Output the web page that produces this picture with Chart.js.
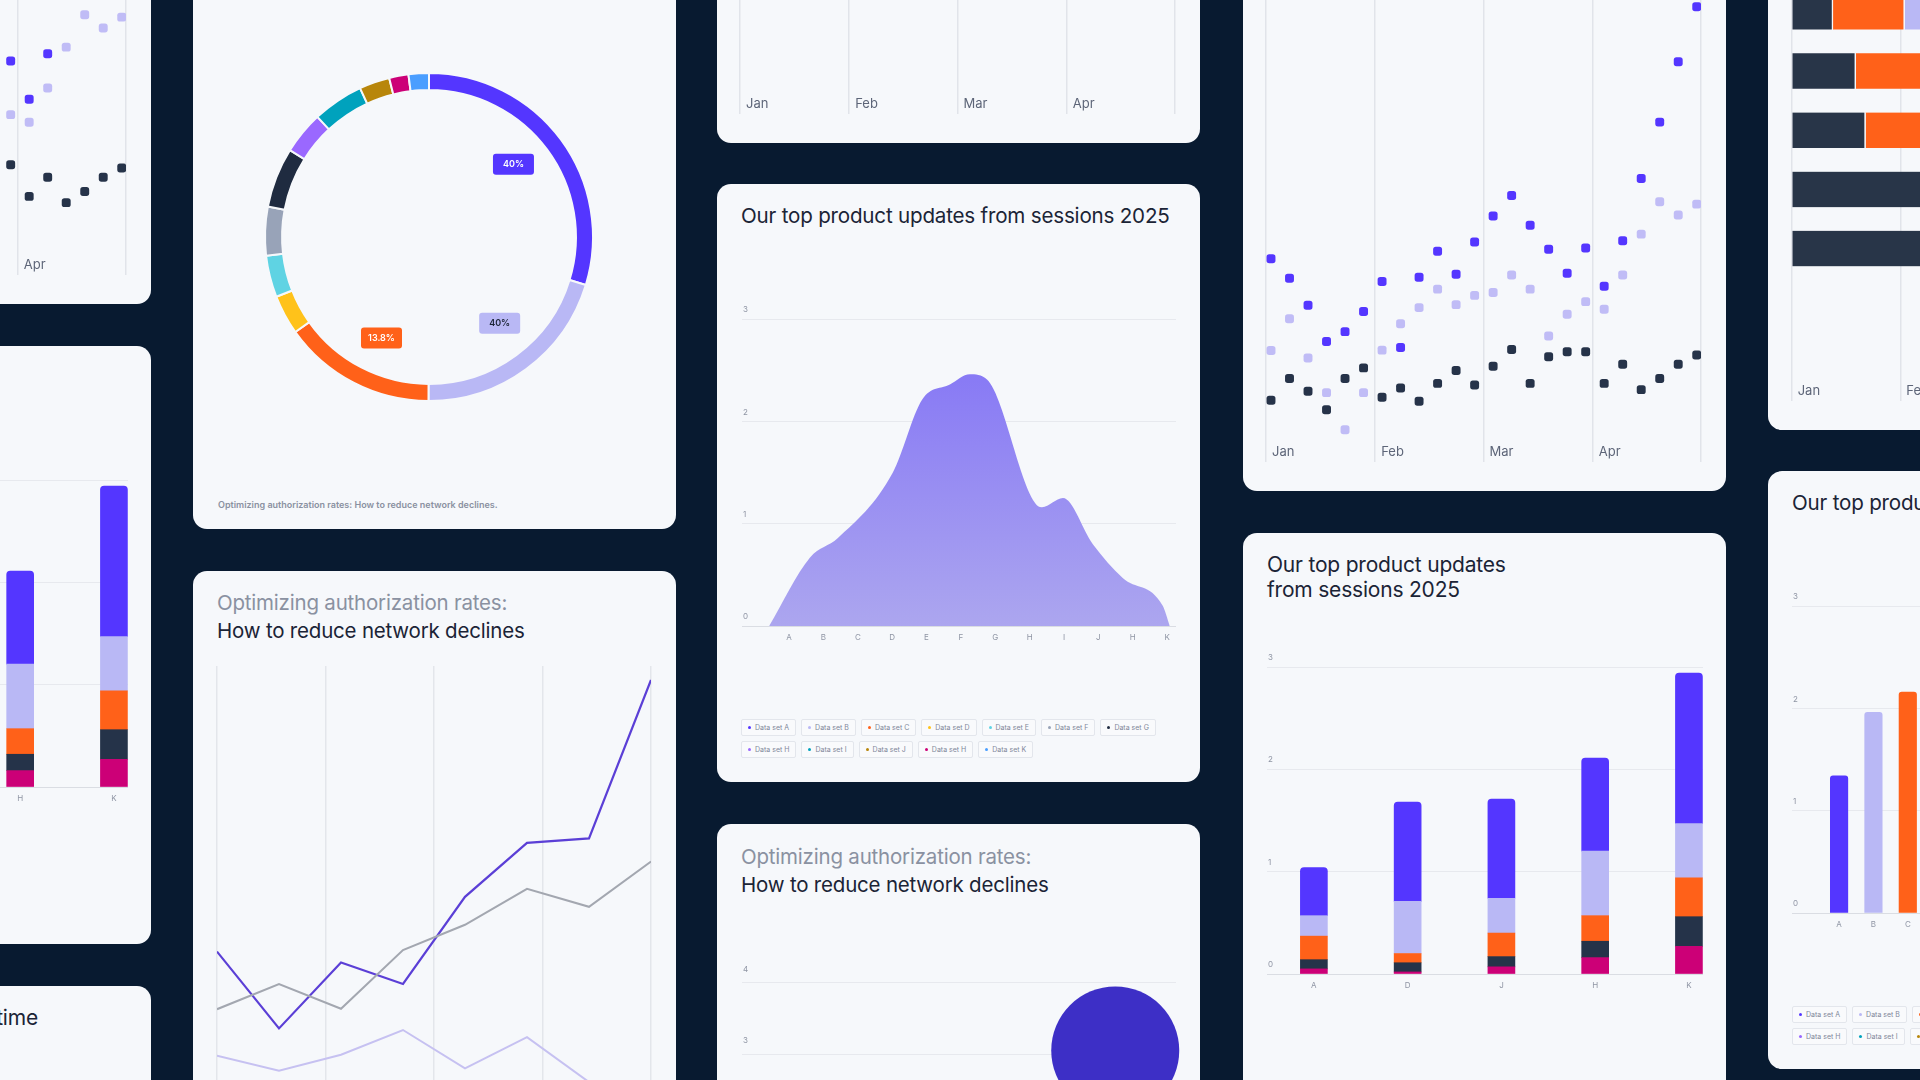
<!DOCTYPE html>
<html>
<head>
<meta charset="utf-8">
<title>Product update charts</title>
<script src="https://cdn.jsdelivr.net/npm/chart.js@4.4.1/dist/chart.umd.min.js"></script>
<style>
  html, body { margin: 0; padding: 0; }
  body { width: 1920px; height: 1080px; overflow: hidden; position: relative; background: #081a30; font-family: Inter, "Noto Sans", sans-serif; }
  .card { position: absolute; width: 483px; height: 598px; background: #f6f8fb; border-radius: 14px; overflow: hidden; }
  .plot { position: absolute; }
  .title { position: absolute; left: 24px; color: #1b2436; white-space: nowrap; letter-spacing: -0.2px; }
  .title .muted { color: #8a91a1; }
  .caption { position: absolute; left: 25px; top: 567px; font-size: 9px; line-height: 13px; font-weight: 600; color: #8a91a1; white-space: nowrap; }
  .legend { position: absolute; left: 24px; top: 535px; }
  .legend .row { display: flex; gap: 5px; margin-bottom: 5px; }
  .legend span { display: flex; align-items: center; gap: 4px; height: 15px; padding: 0 6px; border: 1px solid #e3e6ec; border-radius: 2px; background: #f9fafc; font-size: 7px; color: #80879a; white-space: nowrap; }
  .legend i { display: block; width: 3px; height: 3px; border-radius: 50%; }
</style>
</head>
<body>
<div class="card" id="c1a" style="left:-332px;top:-294px"></div>
<div class="card" id="c1b" style="left:-332px;top:346px"></div>
<div class="card" id="c1c" style="left:-332px;top:986px"></div>
<div class="card" id="c2a" style="left:193px;top:-69px"></div>
<div class="card" id="c2b" style="left:193px;top:571px"></div>
<div class="card" id="c3a" style="left:717px;top:-455px"></div>
<div class="card" id="c3b" style="left:717px;top:184px"></div>
<div class="card" id="c3c" style="left:717px;top:824px"></div>
<div class="card" id="c4a" style="left:1243px;top:-107px"></div>
<div class="card" id="c4b" style="left:1243px;top:533px"></div>
<div class="card" id="c5a" style="left:1768px;top:-168px"></div>
<div class="card" id="c5b" style="left:1768px;top:471px"></div>

<script>
// ---- data ----
const seriesNames = ['Data set A', 'Data set B', 'Data set C', 'Data set D', 'Data set E', 'Data set F', 'Data set G', 'Data set H', 'Data set I', 'Data set J', 'Data set H', 'Data set K'];
const palette = ['#5436ff', '#b9b8f5', '#ff6119', '#ffc21a', '#5fd3e3', '#98a3b8', '#1f2b40', '#9a68ff', '#00a2bd', '#b8860b', '#cc0077', '#4a9eff'];

// doughnut shares (%), clockwise from 12 o'clock
const ringShares = [29.7, 20.3, 15.1, 3.9, 4.1, 4.8, 5.9, 4.2, 5.0, 3.0, 1.9, 2.0];
const ringTags = ['40%', '40%', '13.8%'];
const ringTagInk = ['#ffffff', '#1b2436', '#ffffff'];

// monthly scatter (6 readings per month)
const monthLabels = ['Jan', 'Feb', 'Mar', 'Apr'];
const monthTicks = [-0.27, 5.63, 11.48, 17.38, 23.23];
const scatterPurple = [6.16, 5.57, 4.75, 3.65, 3.95, 4.56, 5.47, 3.47, 5.60, 6.39, 5.69, 6.67, 7.46, 8.08, 7.18, 6.45, 5.72, 6.49, 5.33, 6.71, 8.60, 10.31, 12.14, 13.81];
const scatterLilac = [3.38, 4.34, 3.15, 2.10, 0.97, 2.10, 3.39, 4.19, 4.68, 5.24, 4.77, 5.05, 5.14, 5.67, 5.24, 3.82, 4.48, 4.86, 4.63, 5.67, 6.91, 7.89, 7.49, 7.82];
const scatterNavy = [1.87, 2.53, 2.14, 1.58, 2.53, 2.85, 1.96, 2.24, 1.84, 2.38, 2.77, 2.33, 2.90, 3.41, 2.38, 3.19, 3.34, 3.34, 2.38, 2.96, 2.19, 2.53, 2.96, 3.24];

// line chart
const lineSteps = [0, 1, 2, 3, 4, 5, 6, 7];
const linePurple = [4.71, 2.79, 4.44, 3.90, 6.08, 7.43, 7.54, 11.50];
const lineGrey = [3.27, 3.90, 3.28, 4.75, 5.38, 6.28, 5.83, 6.96];
const lineLilac = [2.11, 1.73, 2.13, 2.75, 1.79, 2.57, 1.45, 0.90];

// area chart
const letterCats = ['A', 'B', 'C', 'D', 'E', 'F', 'G', 'H', 'I', 'J', 'H', 'K'];
const areaX = [0.42, 1.61, 2.42, 4.02, 4.87, 5.68, 6.26, 6.76, 8.36, 8.97, 9.84, 10.71, 11.87, 12.08];
const areaY = [0, 0.67, 0.86, 1.50, 2.21, 2.36, 2.46, 2.41, 1.16, 1.25, 0.80, 0.47, 0.20, 0];

// stacked bars
const stackCats = ['A', 'D', 'J', 'H', 'K'];
const stackMagenta = [0.05, 0.02, 0.07, 0.16, 0.27];
const stackNavy = [0.09, 0.09, 0.10, 0.16, 0.29];
const stackOrange = [0.23, 0.09, 0.23, 0.25, 0.38];
const stackLavender = [0.20, 0.51, 0.34, 0.63, 0.53];
const stackPurple = [0.47, 0.97, 0.97, 0.91, 1.47];

// single bars (only A-C are in view)
const singleVals = [1.34, 1.96, 2.16, null, null, null, null, null, null, null, null, null];

// horizontal stacked bars, in months
const hbarRows = [0, 1, 2, 3, 4];
const hbarNavy = [0.38, 0.59, 0.68, 1.60, 1.50];
const hbarOrange = [0.66, 1.10, 1.00, null, null];
const hbarLavender = [0.90, null, null, null, null];
const hbarTicks = [0, 1, 2, 3, 4];

// bubble
const bubbleX = [8.6];
const bubbleY = [3.05];
const bubbleR = [64];

// ---- setup ----
Chart.defaults.font.family = 'Inter, "Noto Sans", sans-serif';
Chart.defaults.animation = false;
Chart.defaults.responsive = true;
Chart.defaults.maintainAspectRatio = false;
Chart.defaults.events = [];
Chart.defaults.plugins.legend.display = false;
Chart.defaults.plugins.tooltip.enabled = false;

const TICK_GREY = '#8f95a4';

function card(id) { return document.getElementById(id); }

function plot(el, left, top, w, h) {
  const wrap = document.createElement('div');
  wrap.className = 'plot';
  wrap.style.cssText = `left:${left}px;top:${top}px;width:${w}px;height:${h}px`;
  const cv = document.createElement('canvas');
  wrap.appendChild(cv);
  el.appendChild(wrap);
  return cv;
}

function title(el, html, top, size, lh) {
  const t = document.createElement('div');
  t.className = 'title';
  t.style.cssText = `top:${top}px;font-size:${size}px;line-height:${lh}px`;
  t.innerHTML = html;
  el.appendChild(t);
  return t;
}

function legend(el) {
  const box = document.createElement('div');
  box.className = 'legend';
  [seriesNames.slice(0, 7), seriesNames.slice(7)].forEach((row, r) => {
    const line = document.createElement('div');
    line.className = 'row';
    row.forEach((name, i) => {
      const item = document.createElement('span');
      item.innerHTML = `<i style="background:${palette[r * 7 + i]}"></i>${name}`;
      line.appendChild(item);
    });
    box.appendChild(line);
  });
  el.appendChild(box);
}

// fine mesh laid over the area fill
function meshPattern() {
  const tile = document.createElement('canvas');
  tile.width = 3;
  tile.height = 3;
  const t = tile.getContext('2d');
  t.fillStyle = 'rgba(255,255,255,0.16)';
  t.fillRect(0, 0, 3, 1);
  t.fillRect(0, 0, 1, 3);
  return t.createPattern(tile, 'repeat');
}

// month axis: labels sit inside the grid, grid lines run on past them as tick marks
function monthAxis(min, max, ticks) {
  return {
    type: 'linear', min, max, offset: false,
    afterBuildTicks: s => { s.ticks = ticks.map(v => ({ value: v })); },
    ticks: { callback: (v, i) => monthLabels[i] || '', align: 'start', labelOffset: 6, padding: -18, color: '#5d6578', font: { size: 13 }, autoSkip: false, maxRotation: 0 },
    grid: { color: '#e1e4ea', lineWidth: 1.5, drawTicks: true, tickLength: 18 },
    border: { display: false },
    afterFit: s => { s.height = 47; }
  };
}

function letterAxis(min, max, cats, first) {
  return {
    type: 'linear', min, max, offset: false,
    afterBuildTicks: s => { s.ticks = cats.map((c, i) => ({ value: first + i })); },
    ticks: { callback: (v, i) => cats[i], padding: 7, color: TICK_GREY, font: { size: 8 }, autoSkip: false, maxRotation: 0 },
    grid: { display: false, drawTicks: false },
    border: { display: false },
    afterFit: s => { s.height = 20; }
  };
}

function valueAxis(max, offset) {
  return {
    min: 0, max,
    ticks: { stepSize: 1, mirror: true, padding: 1, labelOffset: offset, color: TICK_GREY, font: { size: 8 } },
    grid: { color: c => (c.tick && c.tick.value === 0 ? '#dadde3' : '#e7e9ee'), drawTicks: false },
    border: { display: false },
    afterFit: s => { s.width = 0; }
  };
}

function dots(vals, color) {
  return { data: vals.map((v, i) => ({ x: i, y: v })), backgroundColor: color, borderWidth: 0, pointStyle: 'rectRounded', pointRadius: 5.2 };
}

function monthScatter(el, withPoints) {
  new Chart(plot(el, 0, 100, 483, 498), {
    type: 'scatter',
    data: { datasets: withPoints ? [dots(scatterPurple, '#5436ff'), dots(scatterLilac, '#c0bcf6'), dots(scatterNavy, '#263349')] : [] },
    options: {
      layout: { padding: { left: 23, right: 25, top: 0, bottom: 0 } },
      scales: { x: monthAxis(monthTicks[0], monthTicks[4], monthTicks), y: { display: false, min: 0.54, max: 14.07 } }
    }
  });
}

function seg(vals, color, extra) {
  return Object.assign({ data: vals.map((v, i) => ({ x: i, y: v })), backgroundColor: color, borderWidth: 0, barThickness: 27 }, extra || {});
}

function stackCard(el) {
  title(el, 'Our top product updates<br>from sessions 2025', 19, 21, 25);
  new Chart(plot(el, 0, 120, 483, 341), {
    type: 'bar',
    data: { datasets: [
      seg(stackMagenta, '#cc0077'),
      seg(stackNavy, '#253349'),
      seg(stackOrange, '#ff6119'),
      seg(stackLavender, '#b9b8f5'),
      seg(stackPurple, '#5436ff', { borderRadius: { topLeft: 4, topRight: 4 } })
    ] },
    options: {
      layout: { padding: { left: 24, right: 23, top: 14 } },
      scales: {
        x: Object.assign(letterAxis(-0.5, 4.15, stackCats, 0), { stacked: true }),
        y: Object.assign(valueAxis(3, -9.5), { stacked: true })
      }
    }
  });
}

// ---- column 1 ----
monthScatter(card('c1a'), true);
stackCard(card('c1b'));
(() => {
  const t = title(card('c1c'), 'Authorization rates over time', 20, 21, 24);
  t.style.left = 'auto';
  t.style.right = '113px';
})();

// ---- column 2 ----
(() => {
  const el = card('c2a');
  const ringTagPlugin = {
    id: 'ringTags',
    afterDatasetsDraw(chart) {
      const ctx = chart.ctx;
      const arcs = chart.getDatasetMeta(0).data;
      ringTags.forEach((text, i) => {
        const a = arcs[i].getProps(['x', 'y', 'startAngle', 'endAngle', 'outerRadius'], true);
        const ang = a.startAngle + (a.endAngle - a.startAngle) * 0.46;
        const r = a.outerRadius * 0.68;
        const cx = a.x + Math.cos(ang) * r;
        const cy = a.y + Math.sin(ang) * r;
        ctx.save();
        ctx.fillStyle = palette[i];
        ctx.beginPath();
        ctx.roundRect(cx - 20.5, cy - 10.5, 41, 21, 3);
        ctx.fill();
        ctx.fillStyle = ringTagInk[i];
        ctx.font = '600 9px Inter, sans-serif';
        ctx.textAlign = 'center';
        ctx.textBaseline = 'middle';
        ctx.fillText(text, cx, cy + 0.5);
        ctx.restore();
      });
    }
  };
  new Chart(plot(el, 55.5, 126, 360, 360), {
    type: 'doughnut',
    data: { labels: seriesNames, datasets: [{ data: ringShares, backgroundColor: palette, borderColor: '#f6f8fb', borderWidth: 2, radius: 164, cutout: '89.6%' }] },
    options: { layout: { padding: 0 } },
    plugins: [ringTagPlugin]
  });
  const cap = document.createElement('div');
  cap.className = 'caption';
  cap.textContent = 'Optimizing authorization rates: How to reduce network declines.';
  el.appendChild(cap);
})();

(() => {
  const el = card('c2b');
  title(el, '<span class="muted">Optimizing authorization rates:</span><br>How to reduce network declines', 18, 20.5, 28);
  const line = (vals, color, w) => ({ data: vals.map((v, i) => ({ x: lineSteps[i], y: v })), borderColor: color, borderWidth: w, pointRadius: 0, tension: 0, fill: false });
  new Chart(plot(el, 0, 95, 483, 474), {
    type: 'line',
    data: { datasets: [line(lineLilac, '#c6c1f1', 2), line(lineGrey, '#a3a7b0', 2), line(linePurple, '#5b3fd6', 2.2)] },
    options: {
      layout: { padding: { left: 24, right: 25 } },
      scales: {
        x: { type: 'linear', min: 0, max: 7, ticks: { stepSize: 1.75, display: false }, grid: { color: '#e3e6eb', lineWidth: 1.5, drawTicks: false }, border: { display: false }, afterFit: s => { s.height = 0; } },
        y: { display: false, min: 0, max: 11.85 }
      }
    }
  });
})();

// ---- column 3 ----
monthScatter(card('c3a'), false);

(() => {
  const el = card('c3b');
  title(el, 'Our top product updates from sessions 2025', 20, 20.6, 24);
  const areaPoints = areaX.map((x, i) => ({ x, y: areaY[i] }));
  const areaStyle = { fill: 'origin', borderWidth: 0, pointRadius: 0, tension: 0.4, cubicInterpolationMode: 'monotone' };
  new Chart(plot(el, 0, 121, 483, 341), {
    type: 'line',
    data: { datasets: [
      Object.assign({
        data: areaPoints,
        backgroundColor: c => {
          const a = c.chart.chartArea;
          if (!a) return '#9a8ff3';
          const g = c.chart.ctx.createLinearGradient(0, a.top, 0, a.bottom);
          g.addColorStop(0, '#8070f6');
          g.addColorStop(1, '#aca6ef');
          return g;
        }
      }, areaStyle),
      Object.assign({ data: areaPoints, backgroundColor: meshPattern() }, areaStyle)
    ] },
    options: {
      layout: { padding: { left: 25, right: 24, top: 14 } },
      scales: { x: letterAxis(-0.37, 12.26, letterCats, 1), y: valueAxis(3, -9) }
    }
  });
  legend(el);
})();

(() => {
  const el = card('c3c');
  title(el, '<span class="muted">Optimizing authorization rates:</span><br>How to reduce network declines', 19, 20.5, 28);
  new Chart(plot(el, 0, 126, 483, 400), {
    type: 'bubble',
    data: { datasets: [{ data: bubbleX.map((x, i) => ({ x, y: bubbleY[i], r: bubbleR[i] })), backgroundColor: '#3d2fc6', borderWidth: 0, clip: false }] },
    options: {
      layout: { autoPadding: false, padding: { left: 25, right: 24, top: 32.7, bottom: 82.1 } },
      scales: { x: { display: false, min: 0, max: 10 }, y: valueAxis(4, -13) }
    }
  });
})();

// ---- column 4 ----
monthScatter(card('c4a'), true);
stackCard(card('c4b'));

// ---- column 5 ----
(() => {
  const el = card('c5a');
  const hseg = (vals, color) => ({
    data: hbarRows.map((r, i) => ({ y: r, x: vals[i] })).filter(p => p.x != null),
    backgroundColor: color, barThickness: 35.5, borderWidth: { right: 1.5 }, borderColor: '#f6f8fb', borderSkipped: 'start'
  });
  new Chart(plot(el, 0, 0, 483, 598), {
    type: 'bar',
    data: { datasets: [hseg(hbarNavy, '#283548'), hseg(hbarOrange, '#ff6119'), hseg(hbarLavender, '#b9b8f5')] },
    options: {
      indexAxis: 'y',
      layout: { padding: { left: 23.7, right: 25, top: 150.2 } },
      scales: {
        x: Object.assign(monthAxis(0, 4, hbarTicks), { stacked: true }),
        y: { type: 'linear', stacked: true, reverse: true, offset: false, min: -0.5, max: 6.27, display: false }
      }
    }
  });
})();

(() => {
  const el = card('c5b');
  title(el, 'Our top product updates from sessions 2025', 20, 20.6, 24);
  new Chart(plot(el, 0, 121, 483, 341), {
    type: 'bar',
    data: { datasets: [{
      data: singleVals.map((v, i) => ({ x: i + 1, y: v })),
      backgroundColor: palette, borderWidth: 0, barThickness: 17.5,
      borderRadius: { topLeft: 3, topRight: 3 }
    }] },
    options: {
      layout: { padding: { left: 24, right: 25, top: 14 } },
      scales: { x: letterAxis(-0.37, 12.26, letterCats, 1), y: valueAxis(3, -9) }
    }
  });
  legend(el);
})();
</script>
</body>
</html>
